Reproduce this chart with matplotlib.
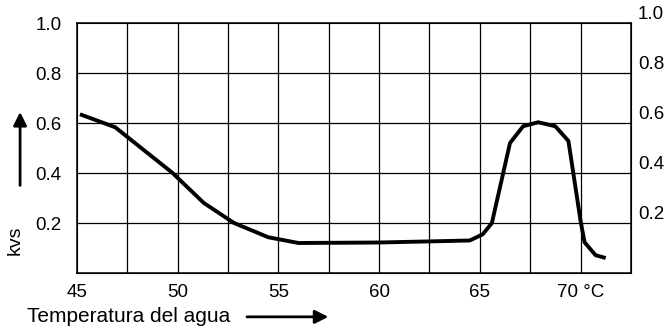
import numpy as np
import matplotlib.pyplot as plt

plt.rcParams['font.family'] = ['Liberation Sans', 'DejaVu Sans']

# curva kvs frente a temperatura del agua
temp = [45.15, 46.9, 49.75, 51.3, 52.8, 54.5, 56.0, 60.0, 64.5, 65.15, 65.6,
        66.5, 67.15, 67.9, 68.75, 69.4, 70.0, 70.2, 70.75, 71.25]
kvs = [0.635, 0.583, 0.40, 0.28, 0.20, 0.143, 0.12, 0.122, 0.13, 0.155, 0.20,
       0.52, 0.587, 0.603, 0.587, 0.528, 0.21, 0.123, 0.071, 0.06]

x_ticks = [45, 50, 55, 60, 65, 70]
x_labels = ['45', '50', '55', '60', '65', '70 °C']
y_ticks = [0.2, 0.4, 0.6, 0.8, 1.0]
y_labels = ['0.2', '0.4', '0.6', '0.8', '1.0']
grid_x = np.arange(45, 72.6, 2.5)

fig = plt.figure(figsize=(6.69, 3.36), dpi=100)
ax = fig.add_axes([0.115, 0.1875, 0.828, 0.744])

ax.set_xlim(45, 72.5)
ax.set_ylim(0, 1.0)

for gx in grid_x[1:-1]:
    ax.axvline(gx, color='black', lw=0.9)
for gy in y_ticks[:-1]:
    ax.axhline(gy, color='black', lw=0.9)

ax.plot(temp, kvs, color='black', lw=2.8, solid_capstyle='butt')

for s in ax.spines.values():
    s.set_linewidth(1.1)

ax.set_xticks(x_ticks)
ax.set_xticklabels(x_labels)
ax.set_yticks(y_ticks)
ax.set_yticklabels(y_labels)
ax.tick_params(length=0, labelsize=13.5, pad=8)
ax.tick_params(axis='y', pad=11)

ax2 = ax.twinx()
ax2.set_ylim(0, 1.0)
ax2.set_yticks(y_ticks)
ax2.set_yticklabels(y_labels)
ax2.tick_params(length=0, labelsize=13.5, pad=5)
for lbl in ax2.get_yticklabels():
    lbl.set_verticalalignment('bottom')

# rótulos y flechas
fig.text(0.022, 0.286, 'kvs', rotation=90, fontsize=14, ha='center', va='center')
ax.annotate('', xy=(0.03, 0.675), xytext=(0.03, 0.44),
            xycoords='figure fraction', textcoords='figure fraction',
            arrowprops=dict(arrowstyle='-|>', color='black', lw=2, mutation_scale=20))
fig.text(0.04, 0.057, 'Temperatura del agua', fontsize=15, ha='left', va='center')
ax.annotate('', xy=(0.495, 0.057), xytext=(0.365, 0.057),
            xycoords='figure fraction', textcoords='figure fraction',
            arrowprops=dict(arrowstyle='-|>', color='black', lw=2, mutation_scale=20))

fig.savefig('out.png', dpi=100)
